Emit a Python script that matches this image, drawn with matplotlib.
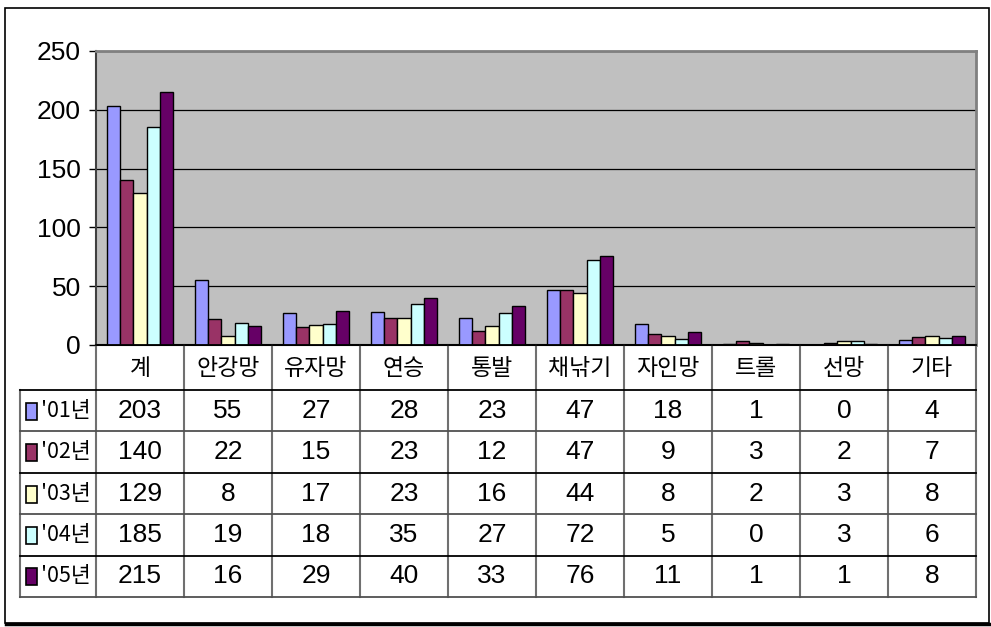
import matplotlib
matplotlib.use("Agg")
import matplotlib.pyplot as plt
from matplotlib.patches import Rectangle
from matplotlib.lines import Line2D
import numpy as np

plt.rcParams["font.family"] = ["Noto Sans CJK KR", "DejaVu Sans"]
NUM_FONT = ["Liberation Sans Narrow", "Liberation Sans", "DejaVu Sans"]

categories = ["계", "안강망", "유자망", "연승", "통발", "채낚기", "자인망", "트롤", "선망", "기타"]
series = ["'01년", "'02년", "'03년", "'04년", "'05년"]
v01 = [203, 55, 27, 28, 23, 47, 18, 1, 0, 4]
v02 = [140, 22, 15, 23, 12, 47, 9, 3, 2, 7]
v03 = [129, 8, 17, 23, 16, 44, 8, 2, 3, 8]
v04 = [185, 19, 18, 35, 27, 72, 5, 0, 3, 6]
v05 = [215, 16, 29, 40, 33, 76, 11, 1, 1, 8]
values = [v01, v02, v03, v04, v05]
colors = ["#9999FF", "#993366", "#FFFFCC", "#CCFFFF", "#660066"]

W, H = 991, 627
fig = plt.figure(figsize=(W / 100, H / 100), dpi=100)

def box(l, t, r, b):
    return [l / W, 1 - b / H, (r - l) / W, (b - t) / H]

# outer frame
fig.add_artist(Rectangle((5 / W, 1 - 623 / H), 984 / W, 615 / H, transform=fig.transFigure,
                         fill=False, edgecolor="black", lw=1.2))
fig.add_artist(Line2D([6 / W, 990 / W], [1 - 624 / H] * 2, transform=fig.transFigure,
                      color="black", lw=2.5))

# --- bar chart ---
ax = fig.add_axes(box(96, 51, 976, 345))
ax.set_facecolor("#C0C0C0")
n = len(categories)
x = np.arange(n)
w = 0.152
for i, (vals, c) in enumerate(zip(values, colors)):
    ax.bar(x + (i - 2) * w, vals, w, color=c, edgecolor="black", linewidth=1.0, zorder=3)
ax.set_xlim(-0.5, n - 0.5)
ax.set_ylim(0, 250)
ax.set_yticks(range(0, 251, 50))
ax.yaxis.grid(True, color="black", lw=0.9, zorder=0)
ax.set_xticks([])
ax.tick_params(axis="y", length=5, width=1, pad=6)
for lab in ax.get_yticklabels():
    lab.set_fontfamily(NUM_FONT)
    lab.set_fontsize(19)
ax.spines["top"].set_color("#808080")
ax.spines["right"].set_color("#808080")
ax.spines["top"].set_linewidth(2)
ax.spines["right"].set_linewidth(2)
ax.spines["left"].set_color("#404040")
ax.spines["left"].set_linewidth(1.5)
ax.spines["bottom"].set_linewidth(1.5)

# --- data table ---
tx0 = -0.5 - (96 - 20) / 88.0
tab = fig.add_axes(box(20, 345, 976, 598))
tab.set_xlim(tx0, n - 0.5)
tab.set_ylim(598, 345)
tab.axis("off")
head_b = 390
row_h = (597 - head_b) / len(series)
row_edges = [head_b + k * row_h for k in range(len(series) + 1)]

# vertical lines
for k in range(n + 1):
    tab.plot([k - 0.5, k - 0.5], [345, 597], color="#707070", lw=1.5, clip_on=False)
tab.plot([tx0, tx0], [head_b, 597], color="#707070", lw=1.5, clip_on=False)
# horizontal lines
for k, yy in enumerate(row_edges):
    col = "black" if k % 2 == 0 else "#505050"
    tab.plot([tx0, n - 0.5], [yy, yy], color=col, lw=1.3, clip_on=False)
tab.plot([-0.5, n - 0.5], [345, 345], color="black", lw=1.3, clip_on=False)

for j, cat in enumerate(categories):
    tab.text(j, (345 + head_b) / 2 + 1, cat, ha="center", va="center", fontsize=16.5)

for i, (s, vals, c) in enumerate(zip(series, values, colors)):
    yc = (row_edges[i] + row_edges[i + 1]) / 2
    tab.add_patch(Rectangle((tx0 + 0.07, yc - 8), 0.12, 17, facecolor=c,
                            edgecolor="black", lw=1.2, clip_on=False))
    tab.text(tx0 + 0.24, yc, s, ha="left", va="center", fontsize=15.5)
    for j, v in enumerate(vals):
        tab.text(j, yc, str(v), ha="center", va="center", fontsize=19, family=NUM_FONT)

fig.savefig("out.png", dpi=100)
